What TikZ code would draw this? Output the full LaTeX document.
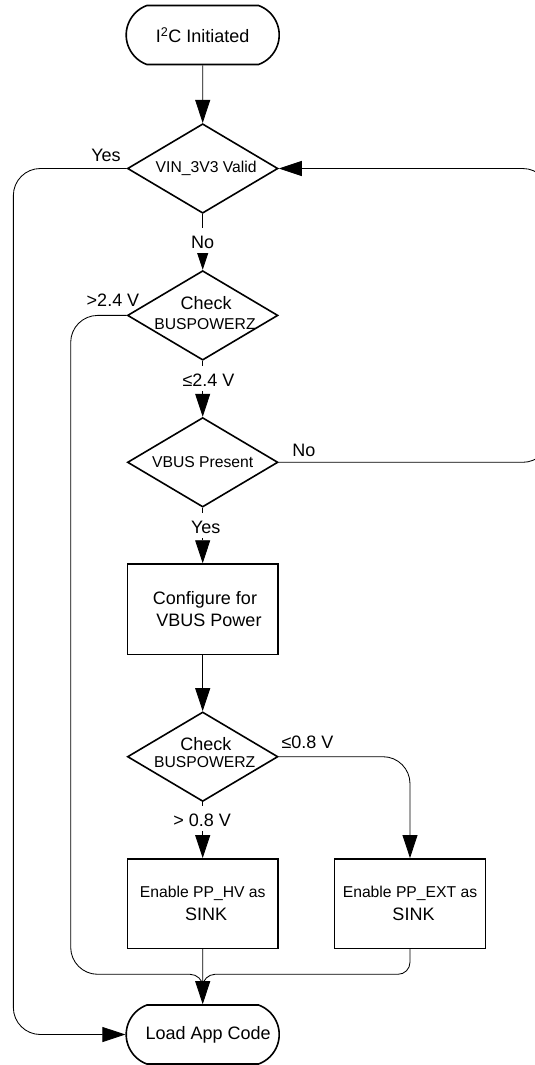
\documentclass[tikz,border=0pt]{standalone}
\usepackage{fontspec}
\setmainfont{Liberation Sans}
\usetikzlibrary{arrows.meta,shapes.geometric,shapes.misc}
\newcommand\fbig{\fontsize{18bp}{21.7bp}\selectfont}
\newcommand\fsml{\fontsize{15.7bp}{19.4bp}\selectfont}
\newcommand\fdtwo{\fontsize{15.7bp}{20bp}\selectfont}
\newcommand\fdfour{\fontsize{15.7bp}{16.4bp}\selectfont}
\newcommand\fchk{\fontsize{18bp}{18bp}\selectfont}
\newcommand\fboxf{\fontsize{15.7bp}{22.7bp}\selectfont}
\begin{document}
\begin{tikzpicture}[x=1bp,y=-1bp,
  shp/.style={draw, line width=1.6bp, inner sep=0pt},
  term/.style={shp, rounded rectangle, rounded rectangle arc length=140, inner xsep=-22bp, minimum width=109bp, minimum height=59bp, font=\fbig},
  dia/.style={shp, diamond, aspect=1.67, inner sep=-6bp, minimum width=150.5bp, minimum height=89.5bp, align=center},
  pbox/.style={shp, rectangle, minimum width=150.5bp, minimum height=89.5bp, align=center},
  conn/.style={line width=0.85bp, -{Triangle[length=23bp,width=15bp]}},
  wire/.style={line width=0.85bp},
  lab/.style={font=\fbig, anchor=base, inner sep=0pt},
  labw/.style={lab, fill=white, inner xsep=2bp, inner ysep=4.5bp, text height=16bp, text depth=0bp}
]
\useasboundingbox (0,0) rectangle (535,1065);
\fill[white] (0,0) rectangle (535,1065);
\clip (0,0) rectangle (535,1065);

% nodes
\node[term] (start) at (202.7,35) {I\textsuperscript{2}C Initiated};
\node[dia, font=\fsml] (d1) at (202.7,168.5) {\hspace*{7bp}VIN\_3V3 Valid};
\node[dia, font=\fdtwo, text depth=5bp] (d2) at (202.7,315.4) {\hspace*{7bp}{\fchk Check}\\\hspace*{4.6bp}BUSPOWERZ};
\node[dia, font=\fsml] (d3) at (202.7,462.3) {VBUS Present};
\node[pbox, font=\fbig, minimum height=90.5bp] (cfg) at (202.7,609.3) {\hspace*{4.6bp}Configure for\\\hspace*{12.6bp}VBUS Power};
\node[dia, font=\fdfour, text depth=8.6bp] (d4) at (202.7,756.7) {\hspace*{6.2bp}{\fchk Check}\\\hspace*{4bp}BUSPOWERZ};
\node[pbox, font=\fboxf] (hv) at (202.7,903.6) {Enable PP\_HV as\\\hspace*{7bp}{\fbig SINK}};
\node[pbox, font=\fboxf, minimum width=151bp] (ext) at (410,903.6) {Enable PP\_EXT as\\\hspace*{7bp}{\fbig SINK}};
\node[term] (load) at (202.7,1034.5) {\hspace*{11bp}Load App Code};

% connectors
\draw[conn] (start) -- (d1);
\draw[conn] (d1) -- (d2);
\draw[conn] (d2) -- (d3);
\draw[conn] (d3) -- (cfg);
\draw[conn] (cfg) -- (d4);
\draw[conn] (d4) -- (hv);
\draw[conn] (hv) -- (load);
\draw[conn, rounded corners=27bp] (d4.east) -| (ext.north);
\draw[conn, rounded corners=27bp] (d1.west) -- ++(-113.3,0) |- (load.west);
\draw[conn, rounded corners=27bp] (d3.east) -- ++(271,0) |- (d1.east);
\coordinate (mrg) at (202.7,986);
\draw[wire] (d2.west) -- (97.7,315.4) .. controls (82.8,315.4) and (70.7,327.5) .. (70.7,342.4)
  -- (70.7,947.3) .. controls (70.7,962.2) and (82.8,974.3) .. (97.7,974.3)
  -- (190,974.3) .. controls (197,974.3) and (202.7,980) .. (mrg);
\draw[wire] (ext.south) -- (410,962.3) .. controls (410,968.9) and (404.6,974.3) .. (398,974.3)
  -- (215,974.3) .. controls (208.4,974.3) and (202.7,980) .. (mrg);

% labels
\node[lab] (lyes1) at (106,161.5) {Yes};
\node[labw] (lno1) at (202.7,248.2) {No};
\node[lab] (lgt24) at (113,306.5) {>2.4 V};
\node[labw] (lle24) at (208.5,386.5) {≤2.4 V};
\node[lab] (lno3) at (304,456.5) {No};
\node[labw] (lyes3) at (205.7,533.2) {Yes};
\node[lab] (lle08) at (307.5,748.2) {≤0.8 V};
\node[labw] (lgt08) at (202.2,826.5) {> 0.8 V};
\end{tikzpicture}
\end{document}
